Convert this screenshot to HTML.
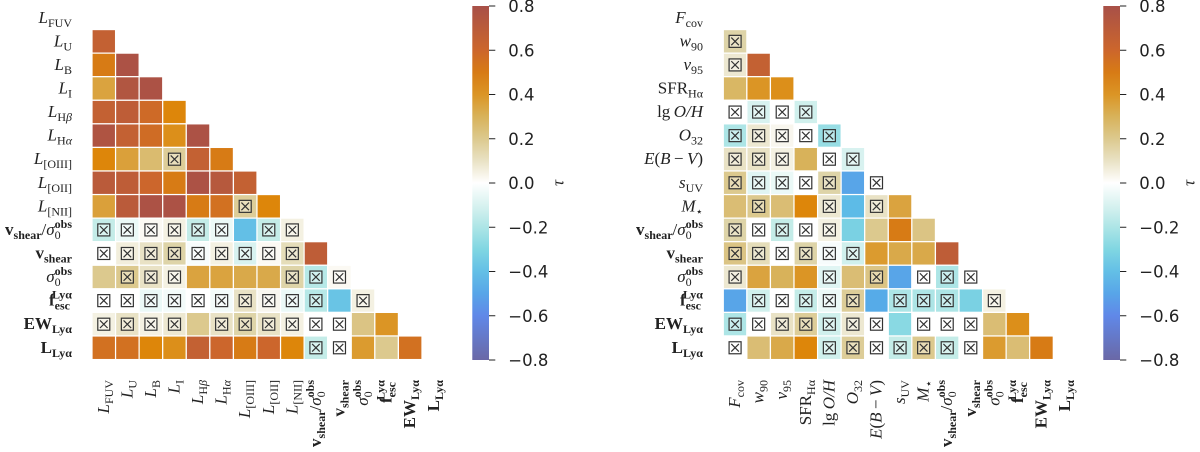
<!DOCTYPE html>
<html><head><meta charset="utf-8"><style>
body{margin:0;background:#fff}
svg{display:block}
.tl{font-family:"DejaVu Sans","Liberation Sans",sans-serif;font-size:16.5px;fill:#222}
.lab{font-family:"Liberation Serif","DejaVu Serif",serif;font-size:17px;fill:#222}
</style></head><body>
<svg id="chart" width="1200" height="452" viewBox="0 0 1200 452" xmlns="http://www.w3.org/2000/svg">
<defs>
<linearGradient id="cbg" x1="0" y1="0" x2="0" y2="1"></linearGradient>
</defs>
</svg>
<script>
// ---- data ----
const leftLabels = ["FUV","U","B","I","Hb","Ha","OIII","OII","NII","vs","vsh","sig","fesc","EW","LLya"];
const rightLabels = ["Fcov","w90","v95","SFR","OH","O32","EBV","sUV","Ms","vs","vsh","sig","fesc","EW","LLya"];
const leftValues = [
[],
[0.65],
[0.5,0.78],
[0.35,0.75,0.78],
[0.65,0.68,0.58,0.45],
[0.76,0.65,0.57,0.42,0.78],
[0.45,0.36,0.26,0.18,0.65,0.5],
[0.7,0.68,0.6,0.5,0.78,0.72,0.65],
[0.36,0.7,0.78,0.78,0.5,0.55,0.18,0.45],
[-0.15,-0.05,0.02,0.05,-0.15,-0.05,-0.4,-0.15,0.05],
[0,0.06,0.1,0.15,-0.02,0.05,-0.1,0.02,0.12,0.68],
[0.2,0.2,0.1,0.05,0.35,0.35,0.33,0.33,0.15,-0.18,0.02],
[0,0,-0.05,-0.03,0,-0.03,0.1,0.03,-0.05,-0.18,-0.38,0.05],
[0.05,0.1,0.05,0.08,0.2,0.1,0.15,0.1,0.05,0,0,0.22,0.4],
[0.55,0.55,0.45,0.42,0.65,0.6,0.5,0.6,0.45,-0.15,0,0.38,0.2,0.55]];
const leftCross = [
[],[0],[0,0],[0,0,0],[0,0,0,0],[0,0,0,0,0],
[0,0,0,1,0,0],[0,0,0,0,0,0,0],[0,0,0,0,0,0,1,0],
[1,1,1,1,1,1,0,1,1],[1,1,1,1,1,1,1,1,1,0],
[0,1,1,1,0,0,0,0,1,1,1],[1,1,1,1,1,1,1,1,1,1,0,1],
[1,1,1,1,0,1,1,1,1,1,1,0,0],[0,0,0,0,0,0,0,0,0,1,1,0,0,0]];
const rightValues = [
[],
[0.15],
[0.08,0.65],
[0.28,0.4,0.42],
[0,-0.1,0,-0.12],
[-0.2,0.08,0.03,0,-0.25],
[0.1,0.1,0.05,0.3,0,-0.1],
[0.2,-0.08,-0.05,0,0.15,-0.5,0],
[0.25,0.2,0.25,0.45,0.08,-0.42,0.1,0.35],
[0.15,0,-0.15,0,0.05,-0.32,0.2,0.5,0.22],
[0.22,0.12,0,0.15,-0.02,-0.12,0.38,0.33,0.33,0.68],
[0.08,0.35,0.3,0.4,-0.08,0.25,0.22,-0.5,0,-0.2,0],
[-0.5,-0.12,0,-0.15,-0.05,0.18,-0.48,-0.2,-0.2,-0.2,-0.32,0.05],
[-0.2,0,0.1,0.18,-0.12,0.08,0,-0.28,0,0,0,0.25,0.42],
[0,0.25,0.33,0.45,-0.12,0.18,0,-0.15,0.2,-0.15,0,0.38,0.25,0.5]];
const rightCross = [
[],[1],[1,0],[0,0,0],[1,1,1,1],[1,1,1,1,1],[1,1,1,0,1,1],
[1,1,1,1,1,0,1],[0,1,0,0,1,0,1,0],[1,1,1,1,1,0,0,0,0],
[1,1,1,1,1,1,0,0,0,0],[1,0,0,0,1,0,1,0,1,1,1],
[0,1,1,1,1,1,0,1,1,1,0,1],[1,1,1,1,1,1,1,0,1,1,1,0,0],
[1,0,0,0,1,1,1,1,1,1,1,0,0,0]];
const cbTicks = [0.8,0.6,0.4,0.2,0.0,-0.2,-0.4,-0.6,-0.8];
const cbLabels = ["0.8","0.6","0.4","0.2","0.0","\u22120.2","\u22120.4","\u22120.6","\u22120.8"];

// ---- colormap ----
const stops=[[-0.8,[106,104,166]],[-0.6,[96,136,232]],[-0.45,[84,180,232]],[-0.3,[128,214,226]],[-0.15,[196,236,232]],[0,[255,255,255]],[0.15,[222,212,168]],[0.3,[216,178,90]],[0.45,[221,134,10]],[0.6,[204,102,44]],[0.8,[168,80,72]]];
function cmap(v){v=Math.max(-0.8,Math.min(0.8,v));for(let k=0;k<stops.length-1;k++){const a=stops[k],b=stops[k+1];if(v<=b[0]){const t=(v-a[0])/(b[0]-a[0]);return a[1].map((c,i)=>Math.round(c+(b[1][i]-c)*t));}}return stops[stops.length-1][1];}
const rgb=c=>`rgb(${c[0]},${c[1]},${c[2]})`;
const light=c=>c.map(x=>Math.round(x+(255-x)*0.35));

const NS="http://www.w3.org/2000/svg";
const svg=document.getElementById('chart');
function el(tag,attrs,parent){const e=document.createElementNS(NS,tag);for(const k in attrs)e.setAttribute(k,attrs[k]);(parent||svg).appendChild(e);return e;}

const grad=document.getElementById('cbg');
for(let i=0;i<=16;i++){const v=0.8-i*0.1;el('stop',{offset:(i/16),'stop-color':rgb(cmap(v))},grad);}

const P=23.57, Y0=6;
const sx=(x0,j)=>x0+j*P;
const sy=i=>Y0+i*P;

const L=(s)=>[["L","i","b"],[s,"r","s"]];
const specs={
FUV:L("FUV"),U:L("U"),B:L("B"),I:L("I"),Hb:[["L","i","b"],["H","r","s"],["\u03B2","i","s"]],Ha:[["L","i","b"],["H","r","s"],["\u03B1","i","s"]],
OIII:L("[OIII]"),OII:L("[OII]"),NII:L("[NII]"),
vs:[["v","b","b"],["shear","b","s"],["/","r","b"],["\u03C3","i","b"],["0","r","s"],["obs","b","q"]],
vsh:[["v","b","b"],["shear","b","s"]],
sig:[["\u03C3","i","b"],["0","r","s"],["obs","b","q"]],
fesc:[["f","b","b"],["esc","b","s"],["Ly\u03B1","b","q"]],
EW:[["EW","b","b"],["Ly\u03B1","b","s"]],
LLya:[["L","b","b"],["Ly\u03B1","b","s"]],
Fcov:[["F","i","b"],["cov","r","s"]],w90:[["w","i","b"],["90","r","s"]],v95:[["v","i","b"],["95","r","s"]],
SFR:[["SFR","r","b"],["H\u03B1","r","s"]],OH:[["lg","r","b"],["\u2009O/H","i","b"]],O32:[["O","i","b"],["32","r","s"]],
EBV:[["E","i","b"],["(","r","b"],["B","i","b"],["\u2009\u2212\u2009","r","b"],["V","i","b"],[")","r","b"]],
sUV:[["s","i","b"],["UV","r","s"]],Ms:[["M","i","b"],["\u22C6","r","s"]]
};
function drawLabel(key,x,y,anchor,rot,name){
  const t=el('text',{class:'lab','text-anchor':anchor,x:x,y:y},svg);
  
  
  if(rot)t.setAttribute('transform',`rotate(-90 ${x} ${y})`);
  let pos='b', subLen=0;
  for(const [txt,st,p] of specs[key]){
    const ts=el('tspan',{},t);ts.textContent=txt;
    if(st==='i')ts.setAttribute('font-style','italic');
    if(st==='b')ts.setAttribute('font-weight','bold');
    let dy=0;
    if(p==='s'){ts.setAttribute('font-size','12');dy=(pos==='b'?4:0);subLen=txt.length;}
    else if(p==='q'){ts.setAttribute('font-size','12');dy=-11;ts.setAttribute('dx',-subLen*6);}
    else {ts.setAttribute('font-size','17');dy=(pos==='s'?-4:pos==='q'?7:0);}
    if(dy)ts.setAttribute('dy',dy);
    pos=p;
  }
}

function panel(x0,labels,vals,cross,yLabX,tag){
  const g=el('g',{});
  
  
  vals.forEach((row,i)=>row.forEach((v,j)=>{
    const c=cmap(v);
    const r=el('rect',{x:sx(x0,j),y:sy(i),width:P,height:P,fill:rgb(c),stroke:'#fff','stroke-width':1.2},g);
    
    
    if(cross[i][j]){
      const cx=sx(x0,j)+P/2, cy=sy(i)+P/2, h=6;
      const b=el('rect',{x:cx-h,y:cy-h,width:2*h,height:2*h,fill:rgb(light(c)),stroke:'#333','stroke-width':1.2},g);
      
      
      el('path',{d:`M${cx-3.8} ${cy-3.8}L${cx+3.8} ${cy+3.8}M${cx+3.8} ${cy-3.8}L${cx-3.8} ${cy+3.8}`,stroke:'#333','stroke-width':1.2},g);
    }
  }));
  labels.forEach((k,i)=>{
    drawLabel(k,yLabX,sy(i)+P/2+5,'end',false,`${tag}-y-label-${k}`);
    drawLabel(k,sx(x0,i)+P/2+5,380,'end',true,`${tag}-x-label-${k}`);
  });
}
panel(92,leftLabels,leftValues,leftCross,72,'left');
panel(723.3,rightLabels,rightValues,rightCross,703,'right');

function colorbar(x,tag){
  const r=el('rect',{x:x,y:6,width:16.7,height:354,fill:'url(#cbg)'});
  
  
  cbTicks.forEach((v,k)=>{
    const y=6+(0.8-v)/1.6*354;
    el('line',{x1:x+16.7,x2:x+23,y1:y,y2:y,stroke:'#222','stroke-width':1});
    const t=el('text',{class:'tl',x:x+36,y:y+6});
    t.textContent=cbLabels[k];
    
    
  });
  const tx=x+91, ty=183;
  const t=el('text',{class:'lab',x:tx,y:ty,'text-anchor':'middle',transform:`rotate(-90 ${tx} ${ty})`,'font-style':'italic','font-size':'18'});
  t.textContent='\u03C4';
  
  
}
colorbar(472.3,'left');
colorbar(1103.3,'right');
</script>
</body></html>
